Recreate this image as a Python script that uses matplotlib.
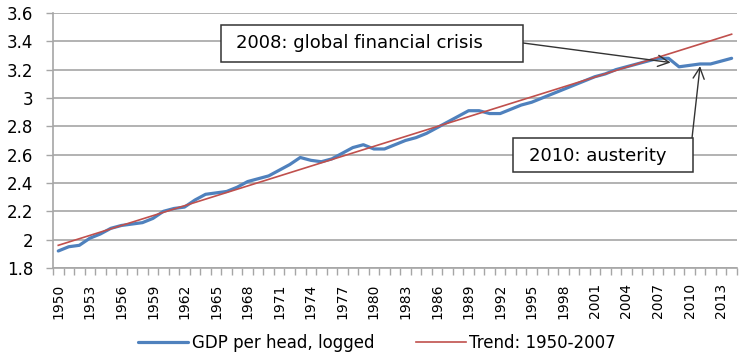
import numpy as np
import matplotlib
matplotlib.use("Agg")
import matplotlib.pyplot as plt
from matplotlib.patches import Rectangle

years = list(range(1950, 2015))
gdp_logged = [1.92, 1.95, 1.96, 2.01, 2.04, 2.08, 2.10, 2.11, 2.12, 2.15,
              2.20, 2.22, 2.23, 2.28, 2.32, 2.33, 2.34, 2.37, 2.41, 2.43,
              2.45, 2.49, 2.53, 2.58, 2.56, 2.55, 2.57, 2.61, 2.65, 2.67,
              2.64, 2.64, 2.67, 2.70, 2.72, 2.75, 2.79, 2.83, 2.87, 2.91,
              2.91, 2.89, 2.89, 2.92, 2.95, 2.97, 3.00, 3.03, 3.06, 3.09,
              3.12, 3.15, 3.17, 3.20, 3.22, 3.24, 3.26, 3.28, 3.28, 3.22,
              3.23, 3.24, 3.24, 3.26, 3.28]
# trend line end points (straight line)
trend_years = [1950, 2014]
trend_vals = [1.96, 3.45]

yticks = [1.8, 2, 2.2, 2.4, 2.6, 2.8, 3, 3.2, 3.4, 3.6]
ytick_labels = ['1.8', '2', '2.2', '2.4', '2.6', '2.8', '3', '3.2', '3.4', '3.6']

BLUE = '#4F81BD'
RED = '#C0504D'
GRID = '#A6A6A6'
DARK = '#333333'

fig = plt.figure(figsize=(7.54, 3.6), dpi=100)
ax = fig.add_axes([0.0703, 0.2556, 0.907, 0.7084])

x = np.arange(len(years))
tx = [years.index(y) for y in trend_years]
ax.plot(x, gdp_logged, color=BLUE, lw=2.3, solid_capstyle='round',
        label='GDP per head, logged', zorder=3)
ax.plot(tx, trend_vals, color=RED, lw=1.2, label='Trend: 1950-2007', zorder=4)

ax.set_xlim(-0.5, len(years) - 0.5)
ax.set_ylim(1.8, 3.6)
ax.set_yticks(yticks)
ax.set_yticklabels(ytick_labels, fontsize=12)
ax.yaxis.grid(True, color=GRID, lw=1.2)
ax.set_axisbelow(True)

lab_idx = x[::3]
ax.set_xticks(lab_idx)
ax.set_xticklabels([str(years[i]) for i in lab_idx], rotation=90, fontsize=10)
ax.set_xticks(np.arange(-0.5, len(years)), minor=True)
ax.tick_params(axis='x', which='major', length=0, pad=11)
ax.tick_params(axis='x', which='minor', length=5, color=GRID, width=1)
ax.tick_params(axis='y', length=5, color=GRID, width=1, pad=9)

for s in ['top', 'right']:
    ax.spines[s].set_visible(False)
for s in ['left', 'bottom']:
    ax.spines[s].set_color(GRID)
    ax.spines[s].set_linewidth(1.2)

# annotation boxes (figure fraction)
fig.add_artist(Rectangle((0.2931, 0.8278), 0.4005, 0.1028, transform=fig.transFigure,
                         fc='white', ec=DARK, lw=1.1, zorder=6))
fig.text(0.3130, 0.8806, '2008: global financial crisis', fontsize=13,
         ha='left', va='center', zorder=7)
fig.add_artist(Rectangle((0.6804, 0.5222), 0.2387, 0.0944, transform=fig.transFigure,
                         fc='white', ec=DARK, lw=1.1, zorder=6))
fig.text(0.7016, 0.5667, '2010: austerity', fontsize=13,
         ha='left', va='center', zorder=7)

arrow = dict(arrowstyle='->', color=DARK, lw=1, mutation_scale=20,
             shrinkA=0, shrinkB=0)
i08 = years.index(2008)
ax.annotate('', xy=(i08 + 0.2, 3.25), xycoords='data',
            xytext=(0.6936, 0.8806), textcoords='figure fraction',
            arrowprops=arrow, zorder=8)
i11 = years.index(2011)
ax.annotate('', xy=(i11, 3.225), xycoords='data',
            xytext=(0.9178, 0.6167), textcoords='figure fraction',
            arrowprops=arrow, zorder=8)

fig.legend(loc='lower center', bbox_to_anchor=(0.5, -0.02), ncol=2,
           frameon=False, fontsize=12, handlelength=3, columnspacing=2.5,
           handletextpad=0.2)

fig.savefig('out.png', dpi=100)
